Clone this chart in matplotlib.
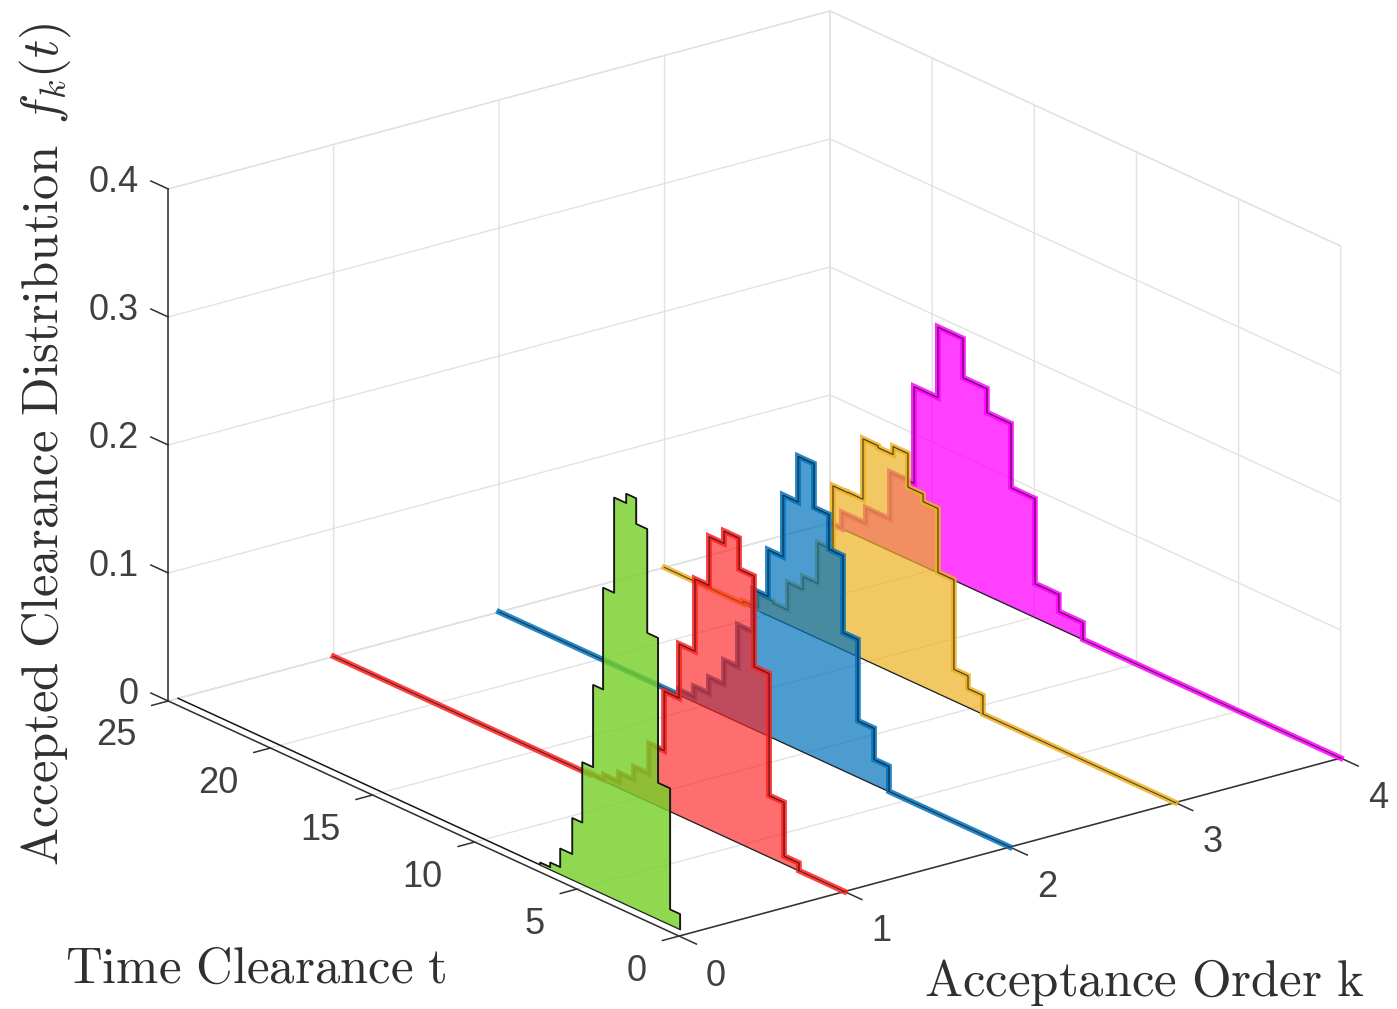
import numpy as np
import matplotlib
matplotlib.use('Agg')
import matplotlib.pyplot as plt
from mpl_toolkits.mplot3d.art3d import Poly3DCollection

# Axis ticks
k_ticks = [0, 1, 2, 3, 4]
t_ticks = [0, 5, 10, 15, 20, 25]
z_ticks = [0, 0.1, 0.2, 0.3, 0.4]
z_labels = ['0', '0.1', '0.2', '0.3', '0.4']

# Green curve (sits just off k = 0)
green_k = 0.06
green_edges = [0.44, 0.93, 1.52, 2.05, 2.59, 3.08, 3.67, 4.21, 4.70, 5.23, 5.72, 6.31, 6.80, 7.29]
green_vals = [.012, .1066, .2198, .301, .321, .3137, .2393, .1598, .0955, .0483, .0201, .0056, .002]

# Red curve, k = 1
red_k = 1
red_edges = [2.23, 2.96, 3.69, 4.43, 5.16, 5.90, 6.63, 7.32, 8.10, 8.83, 9.56, 10.30, 11.03, 11.77, 12.50]
red_vals = [.006, .048, .1432, .214, .2383, .2286, .1905, .134, .0917, .0453, .0216, .0115, .0045, .001]

# Blue curve, k = 2
blue_k = 2
blue_edges = [5.92, 6.65, 7.44, 8.17, 8.86, 9.59, 10.37, 11.11, 11.84, 12.57, 13.31, 13.99, 14.73, 15.46, 16.19]
blue_vals = [.0197, .044, .1075, .1676, .1948, .2291, .1934, .1453, .1088, .0756, .0431, .0242, .0118, .0037]

# Yellow curve, k = 3
yellow_k = 3
yellow_edges = [9.42, 10.15, 10.84, 11.62, 12.35, 13.09, 13.82, 14.55, 15.29, 16.02, 16.76, 17.49, 18.22,
                18.96, 19.69, 20.42, 21.16]
yellow_vals = [.0145, .0245, .0945, .1444, .1503, .1766, .1704, .1719, .1247, .1244, .0741, .0425, .0324,
               .011, .0125, .002]

# Magenta curve, k = 4
magenta_k = 4
magenta_edges = [12.62, 13.80, 14.97, 16.14, 17.32, 18.49, 19.72, 20.89, 22.06, 23.24, 24.41]
magenta_vals = [.0131, .0264, .0927, .1427, .1614, .1919, .1368, .0613, .0246, .0125]

plt.rcParams['mathtext.fontset'] = 'cm'
plt.rcParams['font.family'] = 'Liberation Sans'
plt.rcParams['grid.color'] = '#e2e2e2'
plt.rcParams['grid.linewidth'] = 1.0

W, H = 1397, 1009
fig = plt.figure(figsize=(W / 100, H / 100), dpi=100)
side = 1250
ax = fig.add_axes([112.6 / W, -106.4 / H, side / W, side / H], projection='3d',
                  proj_type='ortho', computed_zorder=False)
ax.patch.set_alpha(0)
ax.view_init(elev=20.6, azim=-127.4)
ax.set_box_aspect((833, 841, 547), zoom=1.0127)
ax.set_xlim(0, 4, view_margin=0)
ax.set_ylim(0, 25, view_margin=0)
ax.set_zlim(0, 0.4, view_margin=0)

ax.set_xticks(k_ticks, [''] * len(k_ticks))
ax.set_yticks(t_ticks, [''] * len(t_ticks))
ax.set_zticks(z_ticks, [''] * len(z_ticks))
ax.tick_params(axis='both', color='none')
ax.tick_params(axis='z', color='none')
for axis in (ax.xaxis, ax.yaxis, ax.zaxis):
    axis.set_pane_color((1, 1, 1, 1))
    axis.pane.set_edgecolor('#e2e2e2')
    axis.line.set_color((0, 0, 0, 0))

# Axis lines and tick marks
ink = '#303030'
ax.plot([0, 0], [0, 25], [0, 0], color=ink, lw=1.1, zorder=1)
ax.plot([0, 4], [0, 0], [0, 0], color=ink, lw=1.1, zorder=1)
ax.plot([0, 0], [25, 25], [0, 0.4], color=ink, lw=1.1, zorder=1)
for k in k_ticks:
    ax.plot([k, k], [0, -0.85], [0, 0], color=ink, lw=1.1, zorder=1)
    ax.text(k - 0.19, -3.35, 0, str(k), fontsize=26, color='#404040', ha='center', va='center')
for t in t_ticks:
    ax.plot([0, -0.1], [t, t], [0, 0], color=ink, lw=1.1, zorder=1)
    ax.text(-0.412, t - 1.772, 0, str(t), fontsize=26, color='#404040', ha='right', va='center')
for z, lab in zip(z_ticks, z_labels):
    ax.plot([0, 0], [25, 25.85], [z, z], color=ink, lw=1.1, zorder=1)
    ax.text(-0.18, 25, z + 0.0115, lab, fontsize=26, color='#404040', ha='right', va='center')


def draw_curve(k, edges, vals, line_color, fill_color, alpha, z, thick=True, start=0.0):
    edges = np.asarray(edges)
    vals = np.asarray(vals)
    # stair outline between the first and last edge
    st = np.repeat(edges, 2)
    sz = np.concatenate([[0], np.repeat(vals, 2), [0]])
    verts = [(k, a, b) for a, b in zip(st, sz)]
    poly = Poly3DCollection([verts], facecolors=[matplotlib.colors.to_rgba(fill_color, alpha)],
                            edgecolors='#202020', linewidths=0.9, zorder=z)
    ax.add_collection3d(poly)
    # whole curve, zero outside of the stairs
    lt = np.concatenate([[start], st, [25]])
    lz = np.concatenate([[0], sz, [0]])
    if thick:
        ax.plot(np.full(lt.shape, k), lt, lz, color=line_color, lw=4.2, alpha=0.85,
                solid_joinstyle='miter', zorder=z + 0.1)
        ax.plot(np.full(lt.shape, k), lt, lz, color='#151515', lw=0.8, alpha=0.7,
                solid_joinstyle='miter', zorder=z + 0.2)
    else:
        ax.plot(np.full(lt.shape, k), lt, lz, color='#151515', lw=1.1,
                solid_joinstyle='miter', zorder=z + 0.2)


draw_curve(magenta_k, magenta_edges, magenta_vals, '#FF00FF', '#FF00FF', 0.75, 2)
draw_curve(yellow_k, yellow_edges, yellow_vals, '#EDB120', '#EDB120', 0.70, 3)
draw_curve(blue_k, blue_edges, blue_vals, '#0072BD', '#0072BD', 0.70, 4)
draw_curve(red_k, red_edges, red_vals, '#FF2020', '#FF2020', 0.65, 5)
draw_curve(green_k, green_edges, green_vals, '#77D02A', '#77D02A', 0.82, 6, thick=False, start=0.44)

# Axis titles
fig.text(65 / W, 1 - 969 / H, r'$\mathrm{Time\ Clearance\ t}$', fontsize=36.6, color='#303030',
         ha='left', va='center')
fig.text(924 / W, 1 - 982 / H, r'$\mathrm{Acceptance\ Order\ k}$', fontsize=36.6, color='#303030',
         ha='left', va='center')
fig.text(45 / W, 1 - 866 / H, r'$\mathrm{Accepted\ Clearance\ Distribution}\ \,f_k(t)$', fontsize=36.5,
         color='#303030', rotation=90, ha='center', va='bottom')

fig.savefig('out.png', dpi=100)
